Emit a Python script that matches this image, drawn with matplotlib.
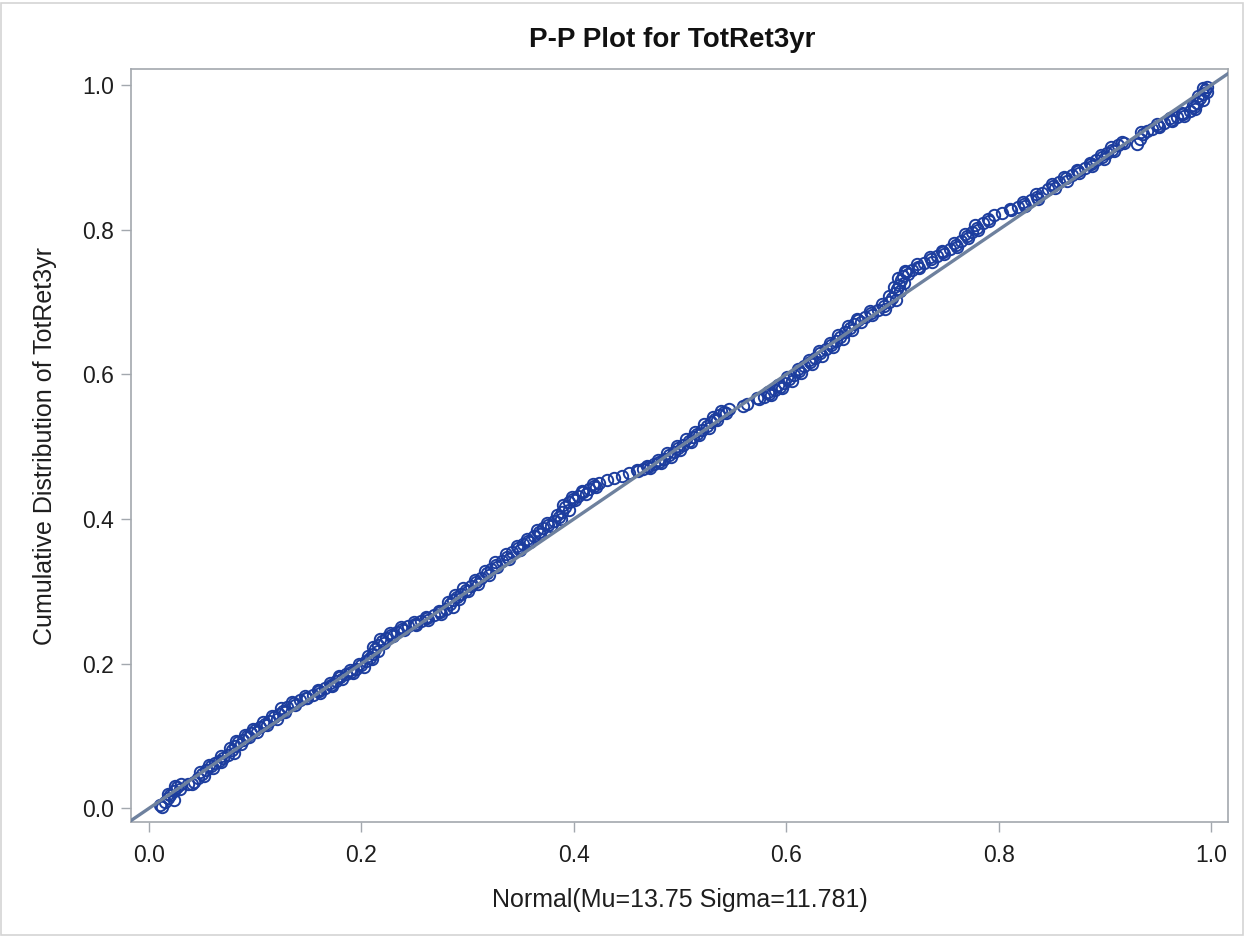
import matplotlib
matplotlib.use("Agg")
import matplotlib.pyplot as plt
from matplotlib.patches import Rectangle

plt.rcParams['font.family'] = ['Liberation Sans', 'DejaVu Sans']

# Normal CDF of each TotRet3yr value (x) vs. its empirical cumulative proportion (y)
normal_cdf = [
    0.012, 0.015, 0.018, 0.020, 0.023, 0.026, 0.030,
    0.042, 0.046, 0.050, 0.054, 0.058, 0.062, 0.066,
    0.070, 0.074, 0.078, 0.081, 0.084, 0.088, 0.092, 0.096,
    0.100, 0.104, 0.109, 0.113, 0.118, 0.122, 0.126,
    0.130, 0.136, 0.142, 0.148, 0.154, 0.160, 0.166, 0.171, 0.176, 0.180,
    0.185, 0.190, 0.195, 0.200, 0.204, 0.208,
    0.211, 0.213, 0.216, 0.219, 0.223, 0.228, 0.233, 0.238,
    0.244, 0.250, 0.256, 0.262, 0.268, 0.274,
    0.280, 0.283, 0.286, 0.290, 0.294,
    0.298, 0.303, 0.308, 0.313, 0.318, 0.322,
    0.327, 0.332, 0.337, 0.342, 0.347, 0.352, 0.357, 0.362,
    0.367, 0.371, 0.376, 0.381, 0.386, 0.389, 0.392, 0.395,
    0.399, 0.404, 0.409, 0.414, 0.419, 0.424,
    0.431, 0.438, 0.445, 0.452,
    0.460, 0.465, 0.470, 0.475, 0.480, 0.485,
    0.490, 0.494, 0.498, 0.503, 0.508, 0.512, 0.516,
    0.521, 0.525, 0.529, 0.533, 0.537, 0.541, 0.546,
    0.559, 0.563,
    0.574, 0.579, 0.584, 0.589, 0.594, 0.598, 0.603, 0.607,
    0.612, 0.617, 0.622, 0.627, 0.632, 0.637, 0.642,
    0.647, 0.651, 0.655, 0.660, 0.664, 0.668,
    0.674, 0.680, 0.686, 0.692,
    0.697, 0.700, 0.702, 0.704, 0.706, 0.708, 0.710, 0.713,
    0.718, 0.724, 0.730, 0.736, 0.742, 0.748, 0.754, 0.760,
    0.765, 0.770, 0.775, 0.780, 0.785, 0.790,
    0.796, 0.803,
    0.812, 0.818, 0.824, 0.830, 0.836, 0.841,
    0.846, 0.851, 0.857, 0.863, 0.869, 0.875, 0.881, 0.887,
    0.892, 0.897, 0.902, 0.907, 0.912, 0.916,
    0.930, 0.933, 0.936, 0.940, 0.944,
    0.950, 0.956, 0.962, 0.968, 0.974, 0.980,
    0.984, 0.987, 0.990, 0.992, 0.994, 0.996,
    0.010, 0.023, 0.018, 0.029, 0.024, 0.037,
    0.040, 0.052, 0.048, 0.060, 0.056, 0.068,
    0.068, 0.080, 0.076, 0.087, 0.082, 0.094, 0.090, 0.102,
    0.098, 0.111, 0.107, 0.120, 0.116, 0.128, 0.124,
    0.137, 0.135, 0.149, 0.147, 0.161, 0.159, 0.172, 0.170, 0.182,
    0.179, 0.192, 0.189, 0.202, 0.198, 0.210, 0.206,
    0.216, 0.211, 0.221, 0.217, 0.230, 0.227, 0.240,
    0.237, 0.251, 0.249, 0.263, 0.261, 0.275, 0.273,
    0.286, 0.281, 0.292, 0.288, 0.300, 0.296, 0.310, 0.307, 0.320, 0.316, 0.328,
    0.326, 0.339, 0.336, 0.349, 0.346, 0.359, 0.356, 0.368,
    0.365, 0.378, 0.375, 0.388, 0.384, 0.395, 0.390, 0.401,
    0.398, 0.411, 0.408, 0.421, 0.418,
    0.459, 0.472, 0.469, 0.482, 0.479, 0.491,
    0.488, 0.500, 0.497, 0.510, 0.506, 0.518, 0.514,
    0.527, 0.523, 0.535, 0.531, 0.543, 0.539,
    0.572, 0.586, 0.583, 0.596, 0.592, 0.605, 0.601,
    0.614, 0.611, 0.624, 0.621, 0.634, 0.631, 0.644, 0.641,
    0.653, 0.649, 0.662, 0.658, 0.670, 0.667,
    0.681, 0.679, 0.693, 0.690,
    0.703, 0.697, 0.707, 0.701, 0.711, 0.705, 0.715, 0.712,
    0.725, 0.723, 0.737, 0.735, 0.749, 0.747, 0.761, 0.758,
    0.771, 0.768, 0.781, 0.778, 0.791,
    0.811, 0.825, 0.823, 0.837, 0.835,
    0.853, 0.850, 0.864, 0.862, 0.876, 0.874, 0.888, 0.886, 0.899, 0.896, 0.909, 0.906, 0.918,
    0.934, 0.951, 0.949, 0.963, 0.961, 0.975, 0.973, 0.985, 0.983, 0.992, 0.988, 0.996, 0.992,
]
empirical_cdf = [
    0.002, 0.008, 0.014, 0.019, 0.024, 0.029, 0.033,
    0.037, 0.042, 0.048, 0.053, 0.058, 0.062, 0.066,
    0.070, 0.074, 0.080, 0.086, 0.091, 0.095, 0.100, 0.104,
    0.108, 0.112, 0.117, 0.121, 0.126, 0.131, 0.135,
    0.140, 0.145, 0.150, 0.153, 0.157, 0.162, 0.166, 0.171, 0.176, 0.181,
    0.185, 0.189, 0.193, 0.198, 0.203, 0.208,
    0.214, 0.220, 0.226, 0.232, 0.236, 0.240, 0.244, 0.248,
    0.252, 0.255, 0.259, 0.263, 0.267, 0.271,
    0.276, 0.282, 0.288, 0.292, 0.297,
    0.302, 0.307, 0.313, 0.319, 0.325, 0.331,
    0.337, 0.342, 0.348, 0.354, 0.360, 0.365, 0.370, 0.376,
    0.382, 0.388, 0.392, 0.397, 0.403, 0.410, 0.416, 0.423,
    0.428, 0.432, 0.437, 0.441, 0.446, 0.450,
    0.454, 0.457, 0.460, 0.463,
    0.466, 0.469, 0.472, 0.476, 0.479, 0.483,
    0.488, 0.493, 0.498, 0.503, 0.508, 0.513, 0.518,
    0.523, 0.529, 0.534, 0.539, 0.544, 0.548, 0.552,
    0.556, 0.559,
    0.566, 0.569, 0.573, 0.578, 0.583, 0.588, 0.594, 0.599,
    0.605, 0.611, 0.617, 0.623, 0.629, 0.635, 0.640,
    0.646, 0.652, 0.658, 0.664, 0.670, 0.675,
    0.680, 0.685, 0.689, 0.694,
    0.700, 0.706, 0.712, 0.718, 0.724, 0.730, 0.736, 0.741,
    0.745, 0.749, 0.754, 0.759, 0.764, 0.769, 0.774, 0.779,
    0.785, 0.791, 0.797, 0.803, 0.809, 0.815,
    0.820, 0.823,
    0.827, 0.831, 0.836, 0.841, 0.846, 0.851,
    0.856, 0.861, 0.866, 0.871, 0.876, 0.881, 0.886, 0.891,
    0.896, 0.901, 0.906, 0.911, 0.917, 0.922,
    0.919, 0.926, 0.932, 0.937, 0.940,
    0.944, 0.948, 0.952, 0.956, 0.960, 0.964,
    0.970, 0.976, 0.982, 0.988, 0.993, 0.998,
    0.004, 0.012, 0.020, 0.027, 0.031, 0.034,
    0.034, 0.045, 0.050, 0.056, 0.060, 0.064,
    0.072, 0.077, 0.083, 0.089, 0.093, 0.098, 0.102, 0.106,
    0.110, 0.115, 0.119, 0.124, 0.128, 0.133, 0.138,
    0.143, 0.147, 0.152, 0.155, 0.160, 0.164, 0.169, 0.173, 0.179,
    0.183, 0.187, 0.191, 0.196, 0.200, 0.206, 0.211,
    0.217, 0.223, 0.229, 0.234, 0.238, 0.242, 0.246,
    0.250, 0.254, 0.257, 0.261, 0.265, 0.269, 0.273,
    0.279, 0.285, 0.290, 0.295, 0.300, 0.305, 0.310, 0.316, 0.322, 0.328, 0.334,
    0.340, 0.345, 0.351, 0.357, 0.362, 0.368, 0.373, 0.379,
    0.385, 0.390, 0.395, 0.400, 0.406, 0.413, 0.419, 0.426,
    0.430, 0.435, 0.439, 0.444, 0.448,
    0.468, 0.471, 0.474, 0.478, 0.481, 0.486,
    0.491, 0.496, 0.501, 0.506, 0.511, 0.516, 0.521,
    0.526, 0.531, 0.537, 0.541, 0.546, 0.550,
    0.568, 0.571, 0.576, 0.581, 0.586, 0.591, 0.597,
    0.602, 0.608, 0.614, 0.620, 0.626, 0.632, 0.638, 0.643,
    0.649, 0.655, 0.661, 0.667, 0.672, 0.677,
    0.682, 0.687, 0.691, 0.697,
    0.703, 0.709, 0.715, 0.721, 0.727, 0.733, 0.739, 0.743,
    0.747, 0.752, 0.756, 0.762, 0.766, 0.771, 0.776, 0.782,
    0.788, 0.794, 0.800, 0.806, 0.812,
    0.829, 0.833, 0.838, 0.843, 0.849,
    0.858, 0.863, 0.868, 0.873, 0.878, 0.883, 0.888, 0.893, 0.898, 0.903, 0.909, 0.914, 0.920,
    0.935, 0.942, 0.946, 0.950, 0.954, 0.958, 0.962, 0.967, 0.973, 0.979, 0.985, 0.990, 0.996,
]

tick_values = [0.0, 0.2, 0.4, 0.6, 0.8, 1.0]
tick_labels = ["0.0", "0.2", "0.4", "0.6", "0.8", "1.0"]

title_text = "P-P Plot for TotRet3yr"
xlabel_text = "Normal(Mu=13.75 Sigma=11.781)"
ylabel_text = "Cumulative Distribution of TotRet3yr"

marker_color = "#1c3d9e"
ref_line_color = "#6e819e"
frame_color = "#a3a8ae"
text_color = "#1e1e1e"

fig = plt.figure(figsize=(12.48, 9.36), dpi=100)
ax = fig.add_axes([0.105, 0.1218, 0.879, 0.8042])

ax.set_xlim(-0.017, 1.016)
ax.set_ylim(-0.019, 1.022)

# Reference diagonal
ax.axline((0, 0), slope=1, color=ref_line_color, lw=2.4, zorder=3)

ax.plot(normal_cdf, empirical_cdf, linestyle="none", marker="o",
        markersize=8.2, markerfacecolor="none", markeredgecolor=marker_color,
        markeredgewidth=1.4, zorder=2)

ax.set_xticks(tick_values)
ax.set_xticklabels(tick_labels)
ax.set_yticks(tick_values)
ax.set_yticklabels(tick_labels)
ax.tick_params(axis="both", direction="out", length=7, width=1,
               color=frame_color, labelsize=16.5, labelcolor=text_color)
ax.tick_params(axis="x", pad=9)
ax.tick_params(axis="y", pad=5)
for sp in ax.spines.values():
    sp.set_color(frame_color)
    sp.set_linewidth(1.2)

ax.set_xlabel(xlabel_text, fontsize=18, color=text_color, labelpad=15)
ax.set_ylabel(ylabel_text, fontsize=18, color=text_color, labelpad=18)
fig.text(0.5385, 0.9575, title_text, ha="center", va="center",
         fontsize=20, fontweight="bold", color="#111111")

# Light frame around the whole graphic
fig.patches.append(Rectangle((0.0008, 0.0008), 0.9953, 0.9960,
                             transform=fig.transFigure, fill=False,
                             edgecolor="#d4d4d4", lw=1.2))

fig.savefig("out.png", dpi=100)
